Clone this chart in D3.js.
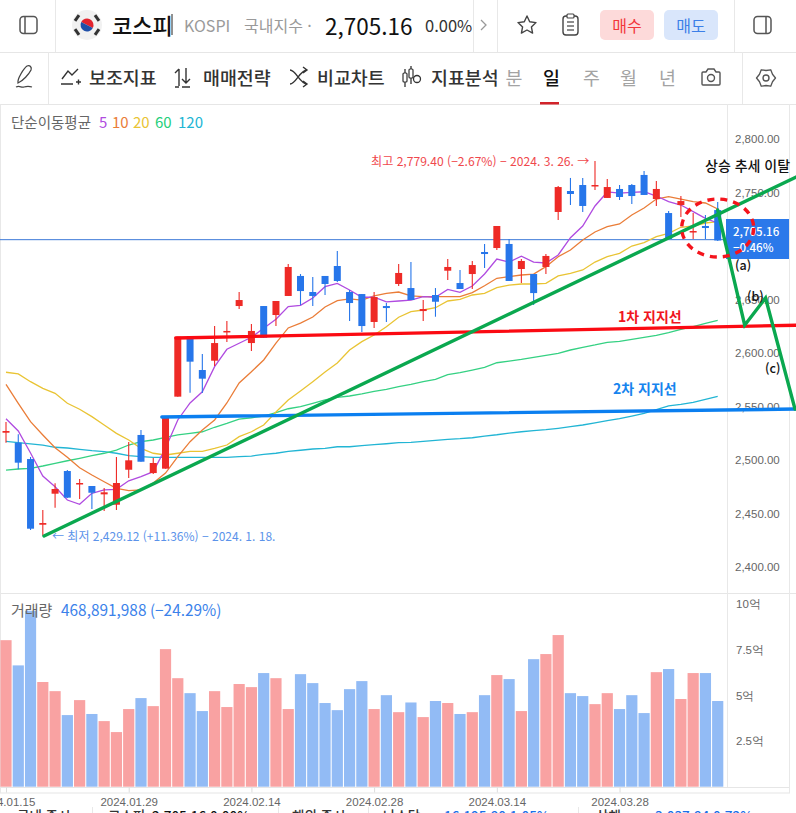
<!DOCTYPE html>
<html lang="ko">
<head>
<meta charset="utf-8">
<script src="https://cdn.jsdelivr.net/npm/d3@7"></script>
<style>
  html, body { margin: 0; padding: 0; background: #fff; overflow: hidden; }
  svg { display: block; font-family: "Noto Sans CJK KR", "Noto Sans", sans-serif; }
</style>
</head>
<body>
<script>
// kospi daily chart
var dates = [
  "2024.01.15","2024.01.16","2024.01.17","2024.01.18","2024.01.19","2024.01.22","2024.01.23","2024.01.24","2024.01.25","2024.01.26",
  "2024.01.29","2024.01.30","2024.01.31","2024.02.01","2024.02.02","2024.02.05","2024.02.06","2024.02.07","2024.02.08","2024.02.13",
  "2024.02.14","2024.02.15","2024.02.16","2024.02.19","2024.02.20","2024.02.21","2024.02.22","2024.02.23","2024.02.26","2024.02.27",
  "2024.02.28","2024.02.29","2024.03.04","2024.03.05","2024.03.06","2024.03.07","2024.03.08","2024.03.11","2024.03.12","2024.03.13",
  "2024.03.14","2024.03.15","2024.03.18","2024.03.19","2024.03.20","2024.03.21","2024.03.22","2024.03.25","2024.03.26","2024.03.27",
  "2024.03.28","2024.03.29","2024.04.01","2024.04.02","2024.04.03","2024.04.04","2024.04.05","2024.04.08","2024.04.09"
];
var dateTicks = [0, 10, 20, 30, 40, 50];

var opens = [
  2525.5,2516.2,2500.9,2439.5,2468.5,2489.7,2477.6,2475.7,2467.9,2458.2,
  2490.9,2523.4,2487.8,2491.9,2559.2,2613.1,2584.1,2592.8,2619.9,2643.9,
  2609.3,2643.9,2635.5,2653.3,2672,2657,2672,2681.3,2657,2655.1,
  2629,2643.9,2664.5,2660.7,2639.2,2654.2,2676.9,2665.4,2673.8,2694.4,
  2698.1,2701.9,2678.5,2673.8,2680.4,2731.8,2751.4,2757,2756,2744.9,
  2753.3,2757,2766.4,2743.9,2730.8,2738.3,2713.1,2718.7,2733.6
];
var closes = [
  2527.1,2497.5,2435.8,2441.1,2472.9,2464.8,2478.5,2469.4,2469.8,2478.5,
  2499.7,2498.4,2497.2,2541.1,2615.2,2591.9,2576,2609.3,2620.6,2649.5,
  2620.6,2614.3,2648.6,2680.4,2657.9,2653.3,2664.5,2667.3,2646.7,2625.2,
  2652.3,2642,2674.8,2649.5,2641.1,2647.9,2680.4,2659.8,2682.2,2692.5,
  2718.7,2667.3,2686,2656,2690.7,2755.1,2748.6,2737.4,2757,2755.1,
  2745.8,2746.7,2747.7,2753.3,2706.5,2742,2714,2716.8,2705.16
];
var highs = [
  2535.5,2524,2502.8,2453.3,2478.2,2490.6,2482.2,2475.7,2473.8,2502.8,
  2516.8,2528,2501.9,2541.1,2615.2,2613.1,2599.1,2625.2,2629.9,2657,
  2627.1,2643.9,2648.6,2683.2,2673.8,2671,2672,2695.3,2658.9,2655.1,
  2657,2646.7,2683.2,2685,2649.5,2660.7,2687.8,2677.6,2686,2701.9,
  2718.7,2706.5,2687.8,2673.8,2692.5,2756,2763.6,2763.6,2779.4,2762.6,
  2757,2757.9,2770.1,2760.7,2732.7,2746.7,2730.8,2729,2741.1
];
var lows = [
  2516.2,2491.3,2434.6,2429.12,2455.4,2464.5,2463.5,2454.2,2452.3,2453.3,
  2483.2,2498.4,2486.9,2491.9,2559.2,2562.9,2562.6,2587.8,2610.3,2641.1,
  2601.9,2614.3,2625.2,2653.3,2644.9,2643.9,2654.2,2666.4,2629.9,2619.6,
  2623.4,2629,2662.6,2649.5,2629.9,2633.9,2668.2,2659.8,2659.8,2679.4,
  2696.3,2667.3,2665.4,2644.9,2673.8,2724.3,2738.3,2731.8,2752.3,2744.9,
  2743,2739.3,2747.7,2737.4,2706.5,2727.1,2706.5,2706.5,2704.7
];

var ma5 = [
  2538.6,2527.1,2506.5,2485,2475,2462.6,2458.6,2468.9,2472,2472.6,
  2480.6,2484.4,2489.1,2510.9,2537.4,2553.3,2563.8,2587.2,2603.5,2609.1,
  2614.7,2623.1,2631.5,2643.3,2644.6,2651.4,2662,2665.1,2658.9,2652.1,
  2652.1,2647.7,2648.6,2649.5,2652.6,2652.1,2659.5,2656.7,2662.6,2673.8,
  2687.8,2685,2690.4,2685,2684.1,2691.6,2707.8,2718.7,2737.4,2750.5,
  2749.5,2750.2,2750.7,2746.7,2741.4,2738.3,2732.1,2725.9,2721.5
];
var ma10 = [
  2570.7,2553,2535.8,2523.4,2511.5,2502.5,2492.8,2486,2479.7,2473.5,
  2471.3,2472,2478.5,2487.8,2503.1,2517.1,2528,2537.4,2553.3,2572,
  2582.5,2593.5,2609.3,2623.4,2628,2633.6,2643,2648.9,2650.5,2649.5,
  2653.3,2655.8,2657,2653.3,2652.6,2652.6,2652.6,2652.6,2656.4,2662.9,
  2669.8,2671.3,2672.9,2673.8,2680.7,2690,2696.3,2705.6,2713.1,2718,
  2720.6,2729,2735.5,2743.9,2746.1,2743.9,2741.4,2740.2,2734.6
];
var ma20 = [
  2582,2580.4,2573.2,2567,2562.3,2553,2547.4,2540.5,2532.7,2524.9,
  2518.7,2510.9,2506.3,2504.7,2506.3,2508.1,2508.1,2510.9,2514,2521.8,
  2526.4,2532.7,2544.9,2556.1,2564.5,2573.2,2582.2,2590.6,2602.8,2610.6,
  2616.8,2624.6,2633.4,2638.6,2640.2,2642.3,2648.6,2650.2,2654.2,2655.8,
  2661,2663.5,2664.5,2664.5,2665.1,2672,2674.5,2677.6,2685,2690,
  2693.2,2700,2703.1,2708.7,2711.9,2717.5,2718.7,2721.5,2722.7
];
var ma60 = [
  2490.6,2491.6,2492.2,2494.4,2496.9,2499.3,2501.6,2504,2506.3,2509.3,
  2514,2517.1,2518.7,2521.2,2523.4,2524.9,2526.4,2530.6,2534.3,2538.3,
  2539.5,2541.1,2544.2,2547.9,2549.8,2553,2556.1,2558.6,2559.8,2561.7,
  2564.2,2566.1,2568.5,2570.7,2573.2,2575.4,2579.7,2581.6,2584.1,2586.6,
  2590.9,2592.5,2594.1,2596,2597.8,2599.7,2602.8,2605.3,2607.5,2610,
  2610.9,2612.8,2614.7,2616.5,2619,2622.1,2624.6,2627.8,2630.6
];
var ma120 = [
  2517.5,2516.2,2515,2514,2511.9,2511.2,2510,2508.7,2507.8,2506.3,
  2504,2503.1,2502.5,2502.5,2502.5,2502.5,2502.5,2502.5,2502.5,2503.1,
  2503.7,2505.3,2506.3,2508.1,2509.1,2510.3,2510.9,2512.4,2512.4,2513.4,
  2514.3,2515.2,2516.2,2516.5,2517.5,2518.4,2519.3,2519.9,2520.8,2522.4,
  2523.6,2525.2,2526.4,2527.4,2528.3,2529.6,2531.1,2532.7,2534.6,2536.7,
  2538.6,2541.1,2543.6,2547,2550.5,2552,2553.9,2556.7,2559.5
];

// volume in 억 shares
var volumes = [
  8.02,6.64,9.63,5.73,5.23,3.92,4.74,3.98,3.59,2.99,
  4.25,4.85,4.41,7.53,5.94,5.12,4.14,5.23,4.36,5.62,
  5.45,6.22,5.94,4.25,6.16,5.67,4.58,4.19,5.34,5.78,
  4.25,5.01,4.08,4.61,3.81,4.69,4.58,3.98,4.08,5.01,
  6.11,5.89,4.14,6.98,7.26,8.30,5.12,4.96,4.52,5.12,
  4.25,5.01,4.03,6.27,6.44,4.80,6.22,6.22,4.69
];

// 2,700 sits behind the price tag in the screenshot
var priceTicks = [2400, 2450, 2500, 2550, 2600, 2650, 2750, 2800];
var volumeTicks = [2.5, 5, 7.5, 10];

// hand drawn lines on the screenshot, [bar index, price]
var trendLine = [[3.1, 2429], [64.4, 2764.5]];
var forecastLine = [[58, 2733.6], [60.2, 2626], [61.9, 2651.4], [64.3, 2547.6]];
var support1 = [[13.85, 2614], [64.4, 2626]];
var support2 = [[12.7, 2540.2], [64.4, 2547.6]];

var maSeries = [
  { values: ma120, color: "#22b5d4" },
  { values: ma60, color: "#35d183" },
  { values: ma20, color: "#e9c434" },
  { values: ma10, color: "#ea7d38" },
  { values: ma5, color: "#b04be0" }
];

var width = 796;
var height = 813;
var red = "#ee2a26";
var blue = "#2776ea";

var x = d3.scaleLinear().domain([0, 58]).range([6, 717.7]);
var y = d3.scaleLinear().domain([2400, 2800]).range([567, 139]);
var yVol = d3.scaleLinear().domain([0, 10]).range([786.7, 604]);

var svg = d3.select("body").append("svg")
  .attr("width", width)
  .attr("height", height);

function hline(y0, x1, x2) {
  svg.append("line").attr("x1", x1).attr("x2", x2).attr("y1", y0).attr("y2", y0)
    .attr("stroke", "#e6e6e6").attr("stroke-width", 1.2);
}
function vline(x0, y1, y2) {
  svg.append("line").attr("x1", x0).attr("x2", x0).attr("y1", y1).attr("y2", y2)
    .attr("stroke", "#e8e8e8").attr("stroke-width", 1);
}
function label(txt, px, py, size, color, weight, anchor) {
  return svg.append("text").attr("x", px).attr("y", py)
    .attr("font-size", size).attr("fill", color)
    .attr("font-weight", weight || 400)
    .attr("text-anchor", anchor || "start")
    .attr("dominant-baseline", "central")
    .text(txt);
}

// frame lines
hline(52.5, 0, width);
hline(104.5, 0, width);
hline(593.5, 0, width);
hline(787.5, 0, 790);
hline(793, 0, 790);
vline(55.5, 0, 52);
vline(473.5, 0, 52);
vline(497.5, 0, 52);
vline(734.5, 0, 52);
vline(48.5, 52, 104);
vline(742.5, 52, 104);
vline(727.5, 104, 787);
vline(789.5, 104, 793);
vline(0.5, 104, 793);
[92.5, 278.5, 368.5, 578.5].forEach(function(px) { vline(px, 807, height); });

// top bar
function panelIcon(cx, cy, side) {
  svg.append("rect").attr("x", cx - 8.5).attr("y", cy - 8.5).attr("width", 17).attr("height", 17).attr("rx", 3.5)
    .attr("fill", "none").attr("stroke", "#555").attr("stroke-width", 1.5);
  svg.append("line").attr("x1", cx + side * 3.5).attr("x2", cx + side * 3.5).attr("y1", cy - 8).attr("y2", cy + 8)
    .attr("stroke", "#555").attr("stroke-width", 1.5);
}
panelIcon(28.5, 25, -1);
panelIcon(762.5, 25, 1);

svg.append("circle").attr("cx", 87).attr("cy", 25).attr("r", 15).attr("fill", "#f1f1f1");
svg.append("path").attr("d", d3.arc()({ innerRadius: 0, outerRadius: 6.5, startAngle: -1.1, endAngle: 2.04 }))
  .attr("transform", "translate(87,25)").attr("fill", "#e2232e");
svg.append("path").attr("d", d3.arc()({ innerRadius: 0, outerRadius: 6.5, startAngle: 2.04, endAngle: 5.18 }))
  .attr("transform", "translate(87,25)").attr("fill", "#1f4fa8");
[[-10, -7, 35], [10, -7, -35], [-10, 7, -35], [10, 7, 35]].forEach(function(d) {
  svg.append("rect").attr("x", -3.5).attr("y", -1.5).attr("width", 7).attr("height", 3)
    .attr("transform", "translate(" + (87 + d[0]) + "," + (25 + d[1]) + ") rotate(" + (d[2] + 90) + ")")
    .attr("fill", "#333");
});

label("코스피", 112, 24, 22, "#111", 500);
svg.append("line").attr("x1", 172).attr("x2", 172).attr("y1", 14).attr("y2", 35).attr("stroke", "#222").attr("stroke-width", 1);
label("KOSPI", 184, 25, 16, "#9a9a9a");
label("국내지수 ·", 244, 25, 16, "#9a9a9a");
label("2,705.16", 325, 25, 22.5, "#111", 400);
label("0.00%", 425, 25, 16.5, "#333");
svg.append("path").attr("d", "M481 20l5 5l-5 5").attr("fill", "none").attr("stroke", "#999").attr("stroke-width", 1.3);

// star and memo icons
svg.append("path").attr("d", "M527 16l2.7 5.8l6.3 .8l-4.6 4.3l1.2 6.2l-5.6-3.1l-5.6 3.1l1.2-6.2l-4.6-4.3l6.3-.8z")
  .attr("fill", "none").attr("stroke", "#444").attr("stroke-width", 1.4).attr("stroke-linejoin", "round");
svg.append("rect").attr("x", 563).attr("y", 16).attr("width", 15).attr("height", 19).attr("rx", 3)
  .attr("fill", "none").attr("stroke", "#444").attr("stroke-width", 1.4);
svg.append("rect").attr("x", 567).attr("y", 14).attr("width", 7).attr("height", 4).attr("rx", 1)
  .attr("fill", "#fff").attr("stroke", "#444").attr("stroke-width", 1.2);
[22, 26, 30].forEach(function(py) {
  svg.append("line").attr("x1", 567).attr("x2", 574).attr("y1", py).attr("y2", py).attr("stroke", "#444").attr("stroke-width", 1.2);
});

svg.append("rect").attr("x", 600).attr("y", 10).attr("width", 54).attr("height", 30).attr("rx", 5).attr("fill", "#fddada");
label("매수", 627, 25, 16, "#f2373a", 400, "middle");
svg.append("rect").attr("x", 664).attr("y", 10).attr("width", 54).attr("height", 30).attr("rx", 5).attr("fill", "#d9e6fb");
label("매도", 691, 25, 16, "#3b7fe8", 400, "middle");

// second row
svg.append("path").attr("d", "M18 83c-1-4 6-15 9-17c3-1 5 1 4 4c-2 4-8 11-13 13zM16 87c4-2 5 1 8 0s5-1 8 0")
  .attr("fill", "none").attr("stroke", "#444").attr("stroke-width", 1.3);
svg.append("path").attr("d", "M61 84h12M62 79l6-8l4 4l6-6M76 82h5M78.5 79.5v5")
  .attr("fill", "none").attr("stroke", "#333").attr("stroke-width", 1.4);
label("보조지표", 89, 77, 18.4, "#333", 500);
svg.append("path").attr("d", "M179 86v-17M175 73l4-4M186 68v15M182 79l4 4l4-4M175 87h4M182 87h8")
  .attr("fill", "none").attr("stroke", "#333").attr("stroke-width", 1.4);
label("매매전략", 203, 77, 18.4, "#333", 500);
svg.append("path").attr("d", "M290 70c6 0 10 14 17 14M290 84c6 0 10-14 17-14M303 67l4 3l-4 3M303 81l4 3l-4 3")
  .attr("fill", "none").attr("stroke", "#333").attr("stroke-width", 1.4);
label("비교차트", 317, 77, 18.4, "#333", 500);
svg.append("path").attr("d", "M405 69v18M411 66v18").attr("fill", "none").attr("stroke", "#333").attr("stroke-width", 1.3);
svg.append("rect").attr("x", 403).attr("y", 73).attr("width", 4).attr("height", 9).attr("rx", 1).attr("fill", "#fff").attr("stroke", "#333").attr("stroke-width", 1.2);
svg.append("rect").attr("x", 409).attr("y", 69).attr("width", 4).attr("height", 9).attr("rx", 1).attr("fill", "#fff").attr("stroke", "#333").attr("stroke-width", 1.2);
svg.append("circle").attr("cx", 417).attr("cy", 79).attr("r", 3.5).attr("fill", "none").attr("stroke", "#333").attr("stroke-width", 1.3);
label("지표분석", 431, 77, 18.4, "#333", 500);
label("분", 514, 77, 18.4, "#a3a3a3", 400, "middle");
label("일", 551.5, 77, 18.4, "#111", 500, "middle");
label("주", 591.5, 77, 18.4, "#a3a3a3", 400, "middle");
label("월", 628.5, 77, 18.4, "#a3a3a3", 400, "middle");
label("년", 667.5, 77, 18.4, "#a3a3a3", 400, "middle");
svg.append("rect").attr("x", 540).attr("y", 102).attr("width", 19).attr("height", 2.5).attr("fill", "#d2232a");

// camera and gear icons
svg.append("path").attr("d", "M703 72h3l2-3h6l2 3h3a1 1 0 0 1 1 1v11a1 1 0 0 1-1 1h-16a1 1 0 0 1-1-1v-11a1 1 0 0 1 1-1z")
  .attr("fill", "none").attr("stroke", "#555").attr("stroke-width", 1.4);
svg.append("circle").attr("cx", 711).attr("cy", 78).attr("r", 3.5).attr("fill", "none").attr("stroke", "#555").attr("stroke-width", 1.4);
svg.append("circle").attr("cx", 766).attr("cy", 78).attr("r", 3).attr("fill", "none").attr("stroke", "#555").attr("stroke-width", 1.4);
svg.append("path").attr("d", d3.lineRadial().curve(d3.curveLinearClosed)(d3.range(12).map(function(i) {
    return [i * Math.PI / 6, i % 2 ? 9.5 : 7.5];
  })))
  .attr("transform", "translate(766,78)")
  .attr("fill", "none").attr("stroke", "#555").attr("stroke-width", 1.3).attr("stroke-linejoin", "round");

// moving average legend
label("단순이동평균", 11, 121, 14.5, "#666");
label("5", 99, 121, 15, "#b04be0");
label("10", 112, 121, 15, "#ea7d38");
label("20", 133, 121, 15, "#e9c434");
label("60", 155, 121, 15, "#26cf7b");
label("120", 178, 121, 15, "#22b5d4");

// price axis
var yAxis = d3.axisRight(y).tickValues(priceTicks).tickSize(0).tickPadding(0).tickFormat(d3.format(",.2f"));
var yAxisG = svg.append("g").attr("transform", "translate(735,0)").call(yAxis);
yAxisG.select(".domain").remove();
yAxisG.selectAll("text").attr("font-size", 11.5).attr("fill", "#666").attr("font-family", "inherit");

// current price line
svg.append("line").attr("x1", 0).attr("x2", 727)
  .attr("y1", y(closes[58]) - 0.8).attr("y2", y(closes[58]) - 0.8)
  .attr("stroke", "#3a78d8").attr("stroke-width", 1);

// moving averages
var line = d3.line().x(function(d, i) { return x(i); }).y(function(d) { return y(d); });
svg.selectAll(".ma").data(maSeries).enter().append("path")
  .attr("class", "ma")
  .attr("d", function(d) { return line(d.values); })
  .attr("fill", "none")
  .attr("stroke", function(d) { return d.color; })
  .attr("stroke-width", 1.3);

// candles
var candles = svg.selectAll(".candle").data(dates).enter().append("g").attr("class", "candle");
candles.append("line")
  .attr("x1", function(d, i) { return x(i); })
  .attr("x2", function(d, i) { return x(i); })
  .attr("y1", function(d, i) { return y(highs[i]); })
  .attr("y2", function(d, i) { return y(lows[i]); })
  .attr("stroke", function(d, i) { return closes[i] >= opens[i] ? red : blue; })
  .attr("stroke-width", 1.1);
candles.append("rect")
  .attr("x", function(d, i) { return x(i) - 3.5; })
  .attr("width", 7)
  .attr("y", function(d, i) { return y(Math.max(opens[i], closes[i])); })
  .attr("height", function(d, i) { return Math.max(1.5, Math.abs(y(opens[i]) - y(closes[i]))); })
  .attr("fill", function(d, i) { return closes[i] >= opens[i] ? red : blue; });

// high and low notes
label("최고 2,779.40 (−2.67%) − 2024. 3. 26. →", 371, 160.5, 12.1, "#f0484c");
label("← 최저 2,429.12 (+11.36%) − 2024. 1. 18.", 52, 535.5, 12, "#5b93ea");

// current price tag
svg.append("rect").attr("x", 726).attr("y", 219).attr("width", 63).attr("height", 40).attr("fill", "#2b79ea");
label("2,705.16", 733, 231, 11.5, "#fff", 500);
label("−0.46%", 733, 247, 11.5, "#fff", 500);

// hand drawn annotations
var annoLine = d3.line().x(function(d) { return x(d[0]); }).y(function(d) { return y(d[1]); });
function drawAnno(points, color, w) {
  svg.append("path").attr("d", annoLine(points))
    .attr("fill", "none").attr("stroke", color).attr("stroke-width", w)
    .attr("stroke-linejoin", "miter").attr("stroke-linecap", "round");
}
drawAnno(support1, "#fb0a12", 3.4);
drawAnno(support2, "#0b7ff0", 3.4);
drawAnno(trendLine, "#0aa84f", 3.4);
drawAnno(forecastLine, "#0aa84f", 3.4);

svg.append("ellipse")
  .attr("cx", x(58)).attr("cy", y(2716.8))
  .attr("rx", 36).attr("ry", 29)
  .attr("fill", "none").attr("stroke", "#f4141c").attr("stroke-width", 3.4)
  .attr("stroke-dasharray", "7 6");

label("상승 추세 이탈", 705, 165, 14, "#111", 500);
label("(a)", 735, 264, 12.5, "#111", 500);
label("(b)", 747, 295, 12.5, "#111", 500);
label("(c)", 765, 367, 12.5, "#111", 500);
label("1차 지지선", 618, 316, 14, "#f0161e", 700);
label("2차 지지선", 613, 388, 14, "#1684ee", 700);

// volume bars
svg.selectAll(".vol").data(volumes).enter().append("rect")
  .attr("class", "vol")
  .attr("x", function(d, i) { return x(i) - 5.6; })
  .attr("width", 11.2)
  .attr("y", function(d) { return yVol(d); })
  .attr("height", function(d) { return yVol(0) - yVol(d); })
  .attr("fill", function(d, i) { return closes[i] >= opens[i] ? "#f9a2a2" : "#92bbf5"; });

label("거래량", 11, 609, 15, "#666");
label("468,891,988 (−24.29%)", 61, 609, 15.4, "#3b82ea");

// volume axis
var volAxis = d3.axisRight(yVol).tickValues(volumeTicks).tickSize(0).tickPadding(0)
  .tickFormat(function(d) { return d + "억"; });
var volAxisG = svg.append("g").attr("transform", "translate(736,0)").call(volAxis);
volAxisG.select(".domain").remove();
volAxisG.selectAll("text").attr("font-size", 11.5).attr("fill", "#666").attr("font-family", "inherit");

// date axis
var xAxis = d3.axisBottom(x).tickValues(dateTicks).tickSize(5).tickPadding(5)
  .tickFormat(function(i) { return dates[i]; });
var xAxisG = svg.append("g").attr("transform", "translate(0,787.5)").call(xAxis);
xAxisG.select(".domain").remove();
xAxisG.selectAll("line").attr("stroke", "#ddd");
xAxisG.selectAll("text").attr("font-size", 11.5).attr("fill", "#666").attr("font-family", "inherit");

// bottom strip, cut off by the screenshot
label("국내 증시", 17, 815, 13.5, "#333", 500);
label("코스피", 108, 815, 13.5, "#333", 500);
label("2,705.16 0.00%", 152, 815, 13.5, "#111", 500);
label("해외 증시", 292, 815, 13.5, "#333", 500);
label("나스닥", 383, 815, 13.5, "#333", 500);
label("16,195.80 1.05%", 444, 815, 13.5, "#1b6fe8", 500);
label("상해", 596, 815, 13.5, "#333", 500);
label("3,037.84 0.72%", 655, 815, 13.5, "#1b6fe8", 500);
</script>
</body>
</html>
